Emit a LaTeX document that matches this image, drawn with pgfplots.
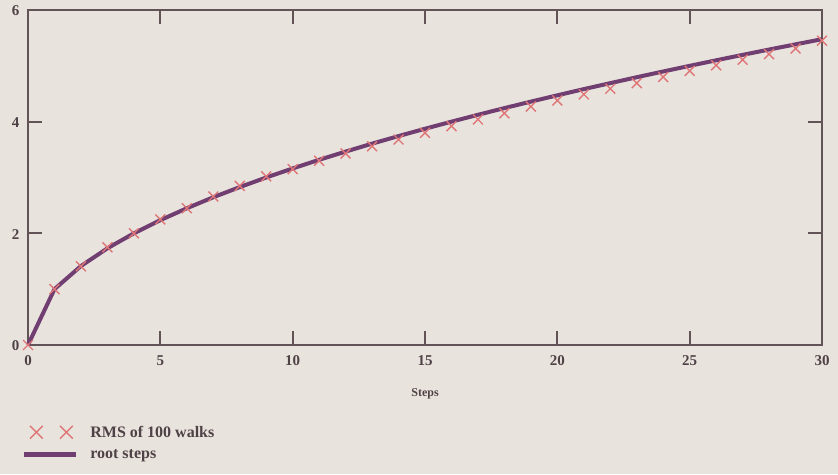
\documentclass[border=0pt]{standalone}
\usepackage{pgfplots}
\pgfplotsset{compat=1.18}
\usepackage{fontspec}
\setmainfont{Liberation Serif}
\definecolor{bgpaper}{RGB}{233,227,221}
\definecolor{axisgray}{RGB}{98,84,86}
\definecolor{rmsred}{RGB}{222,118,120}
\definecolor{rootpurple}{RGB}{112,62,112}
\definecolor{labelgray}{RGB}{78,66,70}

\begin{document}
\begin{tikzpicture}[x=1pt,y=1pt]
\fill[bgpaper] (0,0) rectangle (838,474);
\begin{axis}[
    at={(28pt,129pt)}, anchor=south west,
    scale only axis,
    width=794pt, height=335pt,
    xmin=0, xmax=30, ymin=0, ymax=6,
    xtick={0,5,10,15,20,25,30},
    ytick={0,2,4,6},
    tick align=inside,
    major tick length=14pt,
    axis line style={axisgray, line width=1.8pt},
    every tick/.style={axisgray, line width=1.8pt},
    tick label style={font=\fontsize{15}{15}\selectfont\bfseries, text=labelgray},
    /pgf/number format/assume math mode=true,
    xticklabel style={yshift=-7pt},
    yticklabel style={xshift=-5pt, yshift=-1pt},
    xlabel={Steps},
    xlabel style={font=\fontsize{12}{12}\selectfont\bfseries, text=labelgray, yshift=-16pt},
    legend cell align=left,
    legend style={at={(-0.008,-0.235)}, anchor=north west, draw=none, fill=none,
        font=\fontsize{16}{18}\selectfont\bfseries, text=labelgray,
        row sep=7pt, inner sep=0pt},
    clip=false,
]
\addplot[only marks, mark=x, mark size=7pt, rmsred, mark options={line width=1.4pt},
    legend image code/.code={
        \draw[rmsred, line width=1.4pt] plot[only marks, mark=x, mark size=9pt]
            coordinates {(12pt,0pt) (42pt,0pt)};
        \path (62pt,0pt);}]
coordinates {
(0,0) (1,1.00) (2,1.41) (3,1.75) (4,2.00) (5,2.25) (6,2.45) (7,2.66) (8,2.85) (9,3.02)
(10,3.15) (11,3.30) (12,3.43) (13,3.56) (14,3.68) (15,3.80) (16,3.92) (17,4.04) (18,4.15)
(19,4.27) (20,4.38) (21,4.49) (22,4.59) (23,4.69) (24,4.80) (25,4.91) (26,5.01) (27,5.11)
(28,5.21) (29,5.31) (30,5.45)
};
\addlegendentry{RMS of 100 walks}
\addplot[rootpurple, line width=4pt, no marks,
    legend image code/.code={
        \draw[rootpurple, line width=5pt] (0pt,0pt) -- (52pt,0pt);
        \path (62pt,0pt);}]
coordinates {
(0,0) (1,1) (2,1.414) (3,1.732) (4,2) (5,2.236) (6,2.449) (7,2.646) (8,2.828) (9,3)
(10,3.162) (11,3.317) (12,3.464) (13,3.606) (14,3.742) (15,3.873) (16,4) (17,4.123)
(18,4.243) (19,4.359) (20,4.472) (21,4.583) (22,4.690) (23,4.796) (24,4.899) (25,5)
(26,5.099) (27,5.196) (28,5.292) (29,5.385) (30,5.477)
};
\addlegendentry{root steps}
\end{axis}
\end{tikzpicture}
\end{document}
